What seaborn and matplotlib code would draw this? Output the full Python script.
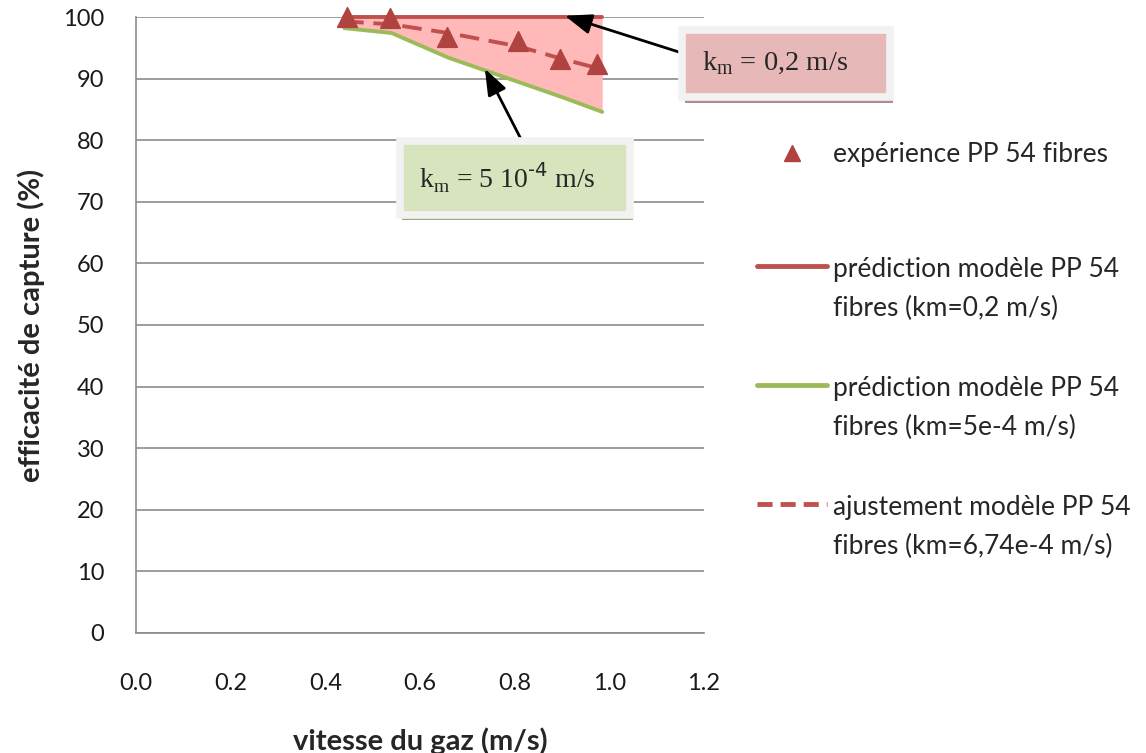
import numpy as np
import pandas as pd
import matplotlib
matplotlib.use("Agg")
import matplotlib.pyplot as plt
import matplotlib.patheffects as pe
from matplotlib.lines import Line2D
from matplotlib.legend_handler import HandlerLine2D
import seaborn as sns

# experimental points
vitesse_exp = [0.446, 0.537, 0.657, 0.807, 0.896, 0.974]
efficacite_exp = [100.0, 99.8, 96.8, 96.1, 93.2, 92.4]

# model curves
vitesse_mod = [0.44, 0.54, 0.66, 0.81, 0.90, 0.985]
pred_km02 = [100.0, 100.0, 100.0, 100.0, 100.0, 100.0]
pred_km5e4 = [98.2, 97.4, 93.4, 89.4, 87.0, 84.6]
ajust_km674 = [99.3, 98.8, 97.4, 95.2, 93.2, 91.5]

x_ticks = [0.0, 0.2, 0.4, 0.6, 0.8, 1.0, 1.2]
y_ticks = list(range(0, 101, 10))

RED = "#c0504d"
GREEN = "#9bbb59"
TRI = "#b0433f"
GRID = "#8c8c8c"


class FirstLineHandler(HandlerLine2D):
    # put the legend line level with the first line of a two-line label
    def create_artists(self, legend, orig_handle, xdescent, ydescent, width, height,
                       fontsize, trans):
        arts = super().create_artists(legend, orig_handle, xdescent, ydescent, width,
                                      height, fontsize, trans)
        for a in arts:
            a.set_ydata(np.asarray(a.get_ydata()) + 17)
        return arts


sns.set_style("white")
plt.rcParams["font.family"] = ["Lato", "DejaVu Sans"]

df_exp = pd.DataFrame({"x": vitesse_exp, "y": efficacite_exp})
df_mod = pd.DataFrame({"x": vitesse_mod, "r": pred_km02, "g": pred_km5e4, "d": ajust_km674})

fig = plt.figure(figsize=(11.46, 7.53), dpi=100)
ax = fig.add_axes([0.1187, 0.1594, 0.4956, 0.818])

ax.fill_between(df_mod["x"], df_mod["g"], df_mod["r"], color="#ffb9b9", lw=0, zorder=2)
sns.lineplot(data=df_mod, x="x", y="r", color=RED, lw=2.8, ax=ax, clip_on=False, zorder=3)
sns.lineplot(data=df_mod, x="x", y="g", color=GREEN, lw=2.8, ax=ax, clip_on=False, zorder=3)
sns.lineplot(data=df_mod, x="x", y="d", color=RED, lw=2.8, ax=ax, clip_on=False, zorder=3,
             linestyle=(0, (5, 2.5)))
sns.scatterplot(data=df_exp, x="x", y="y", marker="^", s=200, color=TRI, edgecolor=TRI,
                ax=ax, clip_on=False, zorder=4)

ax.set_xlim(0, 1.2)
ax.set_ylim(0, 100)
ax.set_xticks(x_ticks)
ax.set_xticklabels([f"{t:.1f}" for t in x_ticks])
ax.set_yticks(y_ticks)
ax.yaxis.grid(True, color=GRID, lw=1.2)
ax.xaxis.grid(False)
for s in ["top", "right"]:
    ax.spines[s].set_visible(False)
for s in ["left", "bottom"]:
    ax.spines[s].set_color(GRID)
    ax.spines[s].set_linewidth(1.2)
ax.tick_params(axis="x", direction="out", length=7, width=1.2, color=GRID, pad=22,
               labelsize=17, labelcolor="#1a1a1a")
ax.tick_params(axis="y", direction="out", length=8, width=1.2, color=GRID, pad=15,
               labelsize=17, labelcolor="#1a1a1a")
ax.set_xlabel("vitesse du gaz (m/s)", fontsize=21, fontweight="bold", labelpad=24)
ax.set_ylabel("efficacité de capture (%)", fontsize=21, fontweight="bold", labelpad=13)

# annotation boxes
arrow = dict(arrowstyle="-|>,head_length=0.8,head_width=0.3", color="black", lw=2,
             shrinkA=0, shrinkB=0)
shadow1 = [pe.SimplePatchShadow(offset=(2, -4), shadow_rgbFace="#a98080", alpha=0.9), pe.Normal()]
t1 = ax.annotate(r"k$_\mathregular{m}$ = 0,2 m/s    ", xy=(0.906, 100.2), xytext=(1.196, 92.45),
                 fontsize=20.5, family="Liberation Serif", ha="left", va="center",
                 annotation_clip=False,
                 bbox=dict(boxstyle="square,pad=0.7", fc="#e6b9b8", ec="#f2f2f2", lw=5.5),
                 arrowprops=dict(arrow, relpos=(0.0, 0.65)))
t1.get_bbox_patch().set_path_effects(shadow1)

shadow2 = [pe.SimplePatchShadow(offset=(2, -4), shadow_rgbFace="#95a078", alpha=0.9), pe.Normal()]
t2 = ax.annotate(r"k$_\mathregular{m}$ = 5 10$^{\text{-4}}$ m/s   ", xy=(0.737, 91.6),
                 xytext=(0.598, 73.86),
                 fontsize=20, family="Liberation Serif", ha="left", va="center",
                 annotation_clip=False,
                 bbox=dict(boxstyle="square,pad=0.7", fc="#d7e4bd", ec="#f2f2f2", lw=5.5),
                 arrowprops=dict(arrow, relpos=(0.59, 1.0)))
t2.get_bbox_patch().set_path_effects(shadow2)

# legend
h_exp = [Line2D([], [], marker="^", ls="none", color=TRI, markersize=11)]
leg1 = ax.legend(h_exp, ["expérience PP 54 fibres"], loc="center left",
                 bbox_to_anchor=(1.051, 0.776), frameon=False, fontsize=19,
                 handlelength=2.65, handletextpad=0.23)
ax.add_artist(leg1)
h_lines = [Line2D([], [], color=RED, lw=3.5),
           Line2D([], [], color=GREEN, lw=3.5),
           Line2D([], [], color=RED, lw=3.5, ls=(0, (3.1, 1.65)))]
lab_lines = ["prédiction modèle PP 54\nfibres (km=0,2 m/s)",
             "prédiction modèle PP 54\nfibres (km=5e-4 m/s)",
             "ajustement modèle PP 54\nfibres (km=6,74e-4 m/s)"]
leg2 = ax.legend(h_lines, lab_lines, loc="center left", bbox_to_anchor=(1.051, 0.365),
                 frameon=False, fontsize=19, handlelength=2.65, handletextpad=0.23,
                 labelspacing=2.1, handler_map={Line2D: FirstLineHandler()})
for t in leg2.get_texts():
    t.set_linespacing(1.68)

fig.savefig("out.png", dpi=100)
